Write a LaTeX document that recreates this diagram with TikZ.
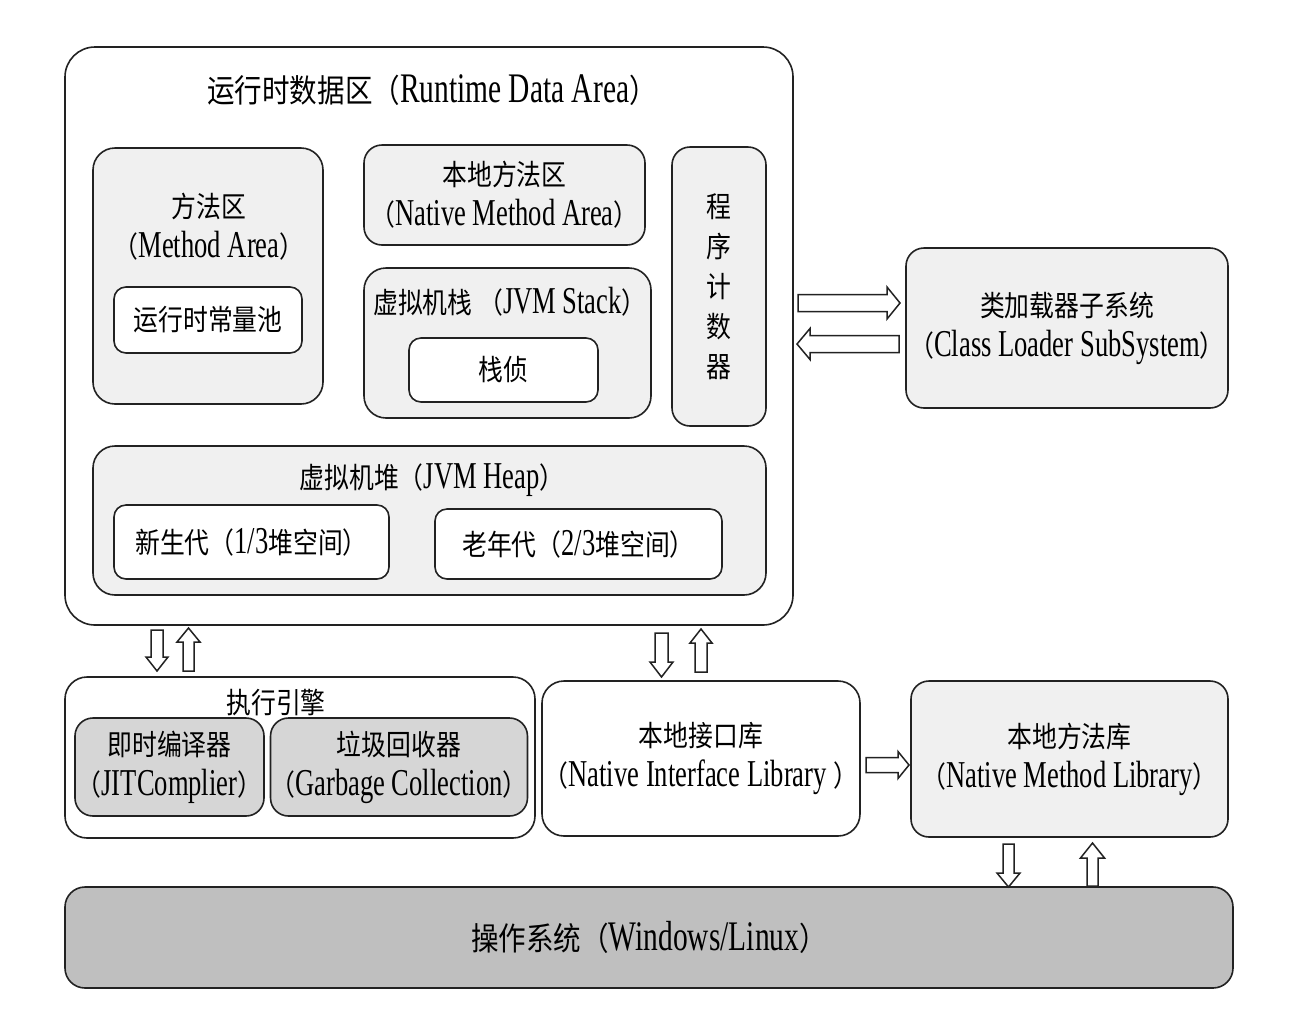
\documentclass[tikz,border=0pt]{standalone}
\usepackage{fontspec}
\setmainfont{Liberation Serif}[FakeStretch=0.7, Scale=1.38]
\newfontfamily\zhf{Noto Sans CJK SC}[FakeStretch=0.86, Scale=1.05]
\newcommand\zh[1]{{\zhf #1}}
\usetikzlibrary{calc}
\definecolor{lg}{HTML}{F0F0F0}
\definecolor{mg}{HTML}{D6D6D6}
\definecolor{dg}{HTML}{BFBFBF}
\definecolor{ln}{HTML}{222222}
\tikzset{
  bx/.style={draw=ln, line width=1.6pt, inner sep=0pt, align=center,
    font=\fontsize{27.5}{40}\selectfont},
  txt/.style={inner sep=0pt, align=center, font=\fontsize{27.5}{40}\selectfont},
  big/.style={font=\fontsize{30.5}{40}\selectfont},
  blockarr/.style={draw=ln, line width=1.5pt, fill=white, line join=miter},
}
% block arrow: from, to, shaft half width, head half width, head length
\newcommand\barr[5]{%
  \draw[blockarr] let \p1=(#1), \p2=(#2),
    \n1={atan2(\y2-\y1,\x2-\x1)}, \n2={veclen(\x2-\x1,\y2-\y1)} in
    [shift={(\p1)}, rotate=\n1]
    (0,-#3) -- ({\n2-#5},-#3) -- ({\n2-#5},-#4) -- (\n2,0) --
    ({\n2-#5},#4) -- ({\n2-#5},#3) -- (0,#3) -- cycle;}
\begin{document}
\begin{tikzpicture}[x=1pt,y=-1pt]
\useasboundingbox (0,0) rectangle (1289,1013);
\fill[white] (0,0) rectangle (1289,1013);

% Runtime data area
\node[bx, fill=white, rounded corners=30pt, minimum width=728, minimum height=578] (rda) at (429,336) {};
\node[txt, big] (rdat) at (432,90) {\zh{运行时数据区（}Runtime Data Area\zh{）}};

\node[bx, fill=lg, rounded corners=22pt, minimum width=230, minimum height=256] (ma) at (208,276) {};
\node[txt] (mat) at (209,227) {\zh{方法区}\\\zh{（}Method Area\zh{）}};
\node[bx, fill=white, rounded corners=12pt, minimum width=188, minimum height=66] (rcp) at (208,320) {\zh{运行时常量池}};

\node[bx, fill=lg, rounded corners=18pt, minimum width=281, minimum height=100] (nma) at (504.5,195) {\zh{本地方法区}\\\zh{（}Native Method Area\zh{）}};

\node[bx, fill=lg, rounded corners=22pt, minimum width=287, minimum height=150] (jvs) at (507.5,343) {};
\node[txt] (jvst) at (510,302) {\zh{虚拟机栈 （}JVM Stack\zh{）}};
\node[bx, fill=white, rounded corners=12pt, minimum width=189, minimum height=64] (sf) at (503.5,370) {\zh{栈侦}};

\node[bx, fill=lg, rounded corners=18pt, minimum width=94, minimum height=279] (pc) at (719,286.5) {\zh{程}\\\zh{序}\\\zh{计}\\\zh{数}\\\zh{器}};

\node[bx, fill=lg, rounded corners=22pt, minimum width=673, minimum height=149] (heap) at (429.5,520.5) {};
\node[txt] (heapt) at (432,480) {\zh{虚拟机堆（}JVM Heap\zh{）}};
\node[bx, fill=white, rounded corners=12pt, minimum width=275, minimum height=74] (yg) at (251.5,542) {\zh{新生代（}1/3\zh{堆空间）}};
\node[bx, fill=white, rounded corners=12pt, minimum width=287, minimum height=70] (og) at (578.5,544) {\zh{老年代（}2/3\zh{堆空间）}};

% Class loader
\node[bx, fill=lg, rounded corners=18pt, minimum width=322, minimum height=160] (cl) at (1067,328) {\zh{类加载器子系统}\\\zh{（}Class Loader SubSystem\zh{）}};

% Execution engine
\node[bx, fill=white, rounded corners=22pt, minimum width=470, minimum height=161] (exe) at (300,757.5) {};
\node[bx, fill=mg, rounded corners=18pt, minimum width=189, minimum height=98] (jit) at (169.5,767) {\zh{即时编译器}\\\zh{（}JITComplier\zh{）}};
\node[bx, fill=mg, rounded corners=18pt, minimum width=256, minimum height=98] (gc) at (399,767) {\zh{垃圾回收器}\\\zh{（}Garbage Collection\zh{）}};
\node[txt] (exet) at (276,703) {\zh{执行引擎}};

\node[bx, fill=white, rounded corners=22pt, minimum width=318, minimum height=155] (nil) at (701,758.5) {\zh{本地接口库}\\\zh{（}Native Interface Library \zh{）}};
\node[bx, fill=lg, rounded corners=18pt, minimum width=317, minimum height=156] (nml) at (1069.5,759) {\zh{本地方法库}\\\zh{（}Native Method Library\zh{）}};

\node[bx, big, fill=dg, rounded corners=20pt, minimum width=1168, minimum height=101] (os) at (649,937.5) {\zh{操作系统（}Windows/Linux\zh{）}};

% arrow end points
\coordinate (r1a) at (798,303);  \coordinate (r1b) at (900,303);
\coordinate (l1a) at (899,344);  \coordinate (l1b) at (797,344);
\coordinate (d1a) at (157,630);  \coordinate (d1b) at (157,671);
\coordinate (u1a) at (188.5,671);\coordinate (u1b) at (188.5,628);
\coordinate (d2a) at (661.5,633);\coordinate (d2b) at (661.5,677);
\coordinate (u2a) at (701,672);  \coordinate (u2b) at (701,629);
\coordinate (r2a) at (866,765);  \coordinate (r2b) at (909,765);
\coordinate (d3a) at (1008.5,844);\coordinate (d3b) at (1008.5,887);
\coordinate (u3a) at (1092.5,886);\coordinate (u3b) at (1092.5,843);

\barr{r1a}{r1b}{8.5}{16}{13}
\barr{l1a}{l1b}{8.5}{15.5}{13}
\barr{d1a}{d1b}{6}{11}{14}
\barr{u1a}{u1b}{5.5}{11.5}{14}
\barr{d2a}{d2b}{6.5}{11.5}{15}
\barr{u2a}{u2b}{6}{11}{14}
\barr{r2a}{r2b}{7.5}{13.5}{11}
\barr{d3a}{d3b}{5.5}{11.5}{14}
\barr{u3a}{u3b}{5.5}{12}{15}
\end{tikzpicture}
\end{document}
